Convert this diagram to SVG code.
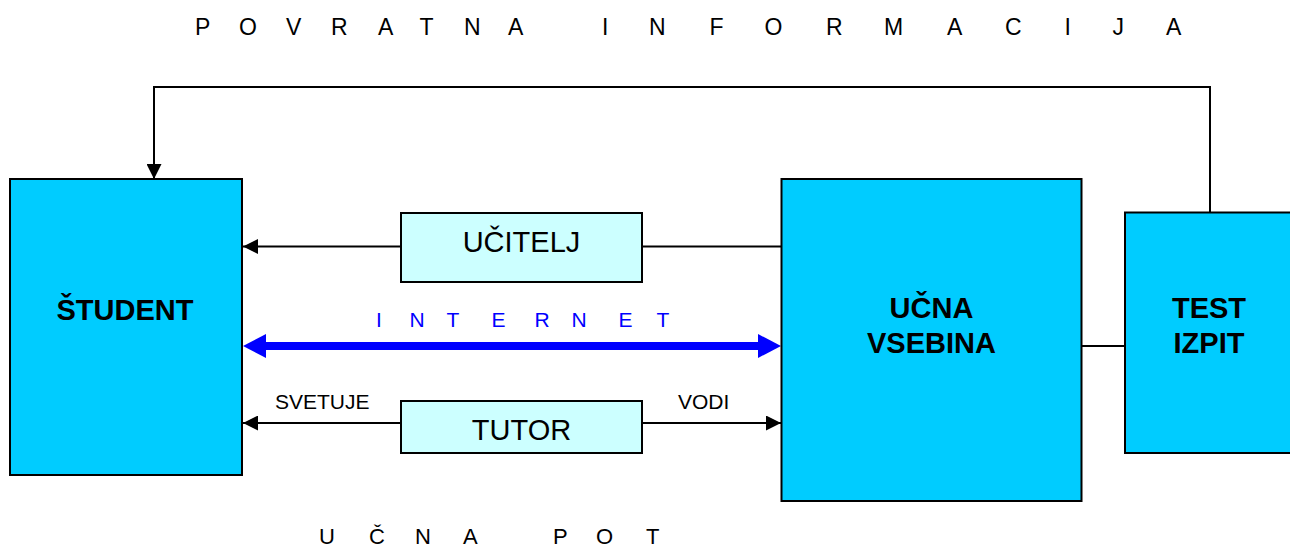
<svg xmlns="http://www.w3.org/2000/svg" width="1290" height="547" viewBox="0 0 1290 547">
<style>
text{font-family:"Liberation Sans",Arial,Helvetica,sans-serif;fill:#000}
.big{fill:#00CCFF;stroke:#000;stroke-width:2}
.small{fill:#CCFFFF;stroke:#000;stroke-width:2}
.b{font-weight:bold;font-size:29px;text-anchor:middle}
.m{font-size:29px;text-anchor:middle}
.s{font-size:21px}
.sp{font-size:23px}
.net{font-size:21px;fill:#0000FF}
.ln{fill:none;stroke:#000;stroke-width:2}
.ar{marker-end:url(#ah)}
.blue{fill:none;stroke:#0000FF;stroke-width:8;marker-start:url(#bh);marker-end:url(#bh)}
</style>
<defs>
<marker id="ah" markerUnits="userSpaceOnUse" viewBox="0 0 15 15" refX="15" refY="7.5" markerWidth="15" markerHeight="15" orient="auto"><path d="M0,0 L15,7.5 L0,15 z" fill="#000"/></marker>
<marker id="bh" markerUnits="userSpaceOnUse" viewBox="0 0 23 24" refX="2" refY="12" markerWidth="23" markerHeight="24" orient="auto-start-reverse"><path d="M0,0 L23,12 L0,24 z" fill="#0000FF"/></marker>
</defs>
<rect width="1290" height="547" fill="#fff"/>
<g id="connectors">
<path class="ln ar" d="M1210,212.5 V87 H154 V179"/>
<path class="ln ar" d="M401,246.5 H243"/>
<path class="ln" d="M642,246.5 H781"/>
<path class="blue" d="M264,346 H760"/>
<path class="ln ar" d="M401,423 H243"/>
<path class="ln ar" d="M642,423 H781"/>
<path class="ln" d="M1081,346 H1125"/>
</g>
<g id="student">
<rect class="big" x="10" y="179" width="232" height="296"/>
<text class="b" x="125" y="320">ŠTUDENT</text>
</g>
<g id="ucitelj">
<rect class="small" x="401" y="213" width="241" height="69"/>
<text class="m" x="521.5" y="252">UČITELJ</text>
</g>
<g id="tutor">
<rect class="small" x="401" y="401" width="241" height="52"/>
<text class="m" x="521.5" y="440">TUTOR</text>
</g>
<g id="ucna-vsebina">
<rect class="big" x="781.5" y="179" width="300" height="322"/>
<text class="b" x="931.5" y="318">UČNA</text>
<text class="b" x="931.5" y="353">VSEBINA</text>
</g>
<g id="test-izpit">
<rect class="big" x="1125" y="212.5" width="172" height="240.5"/>
<text class="b" x="1209" y="318">TEST</text>
<text class="b" x="1209" y="353">IZPIT</text>
</g>
<g id="labels">
<text class="sp" y="35" x="195 239 286 331 378 419.5 464 508 602 649 709.5 764.5 826 884 947 1005 1064.5 1112.5 1166">POVRATNAINFORMACIJA</text>
<text class="net" y="327" x="376 409.5 446.5 491.5 534.5 571.5 618.5 656.5">INTERNET</text>
<text class="s" x="275" y="409">SVETUJE</text>
<text class="s" x="678" y="409">VODI</text>
<text style="font-size:22px" y="544" x="319 369 415 463 553 596 646">UČNAPOT</text>
</g>
</svg>
